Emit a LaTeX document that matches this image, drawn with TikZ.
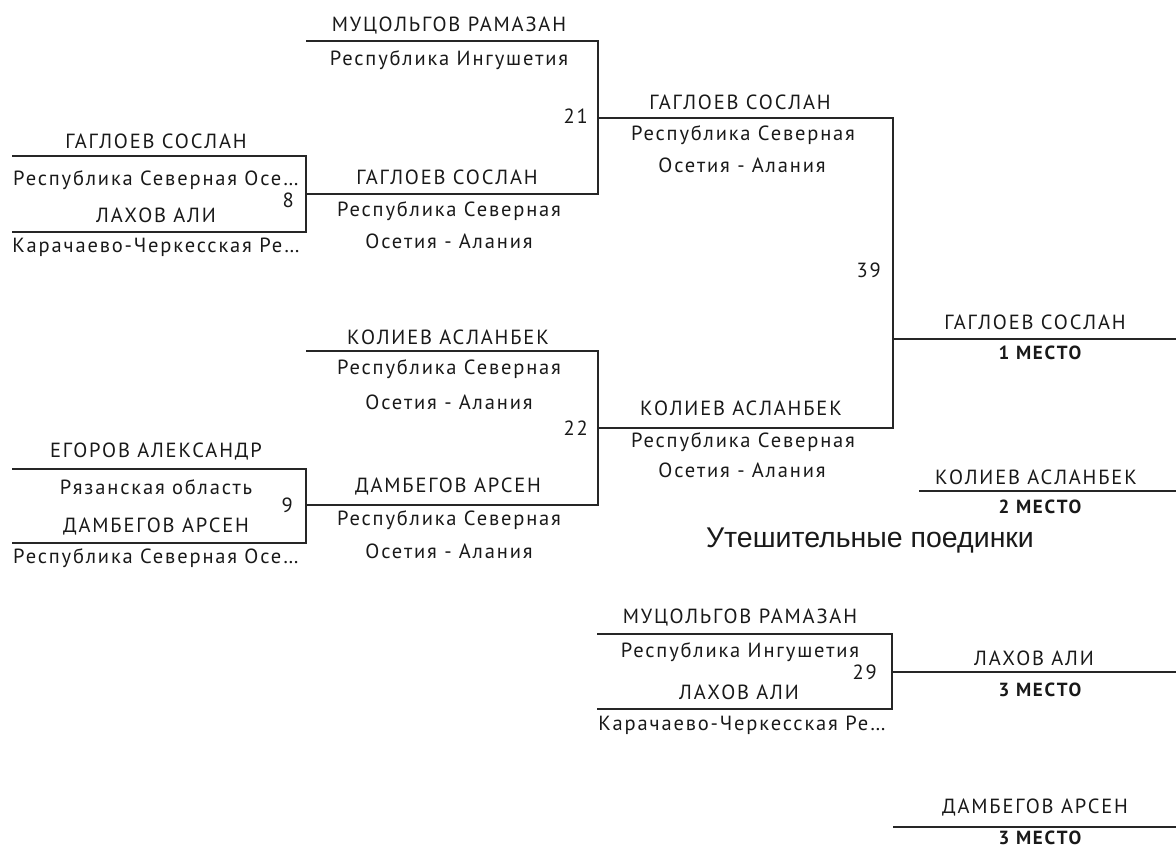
\documentclass[tikz,border=0pt]{standalone}
\usepackage{fontspec}
\setmainfont{PT Sans}
\newfontfamily\bracketfont[LetterSpace=9]{PT Sans}
\newfontfamily\titlefont{Liberation Sans}
\begin{document}
\begin{tikzpicture}[x=1pt,y=-1pt,
  ln/.style={line width=1.7pt, draw=black!85},
  txt/.style={font=\bracketfont\fontsize{20.5}{24}\selectfont, inner sep=0pt, anchor=center, text=black!90},
  num/.style={font=\bracketfont\fontsize{20.5}{24}\selectfont, inner sep=0pt, anchor=east, text=black!90},
  place/.style={font=\bracketfont\fontsize{19}{24}\selectfont\bfseries, inner sep=0pt, anchor=center, text=black!90},
  title/.style={font=\titlefont\fontsize{28.5}{34}\selectfont, inner sep=0pt, anchor=base, text=black!90}]
\useasboundingbox (0,0) rectangle (1176,848);
% bracket corner coordinates
\coordinate (m8a) at (12,156); \coordinate (m8b) at (306,156); \coordinate (m8c) at (306,232); \coordinate (m8d) at (12,232);
\coordinate (m21a) at (306,41); \coordinate (m21b) at (598,41); \coordinate (m21c) at (598,194); \coordinate (m21d) at (306,194);
\coordinate (m9a) at (12,469); \coordinate (m9b) at (306,469); \coordinate (m9c) at (306,543); \coordinate (m9d) at (12,543);
\coordinate (m22a) at (306,351); \coordinate (m22b) at (598,351); \coordinate (m22c) at (598,505); \coordinate (m22d) at (306,505);
\coordinate (m39a) at (598,118); \coordinate (m39b) at (893,118); \coordinate (m39c) at (893,428); \coordinate (m39d) at (598,428);
\coordinate (m39o) at (893,339); \coordinate (p1e) at (1176,339);
\coordinate (p2s) at (919,491); \coordinate (p2e) at (1176,491);
\coordinate (m29a) at (597,634); \coordinate (m29b) at (892,634); \coordinate (m29c) at (892,709); \coordinate (m29d) at (597,709);
\coordinate (m29o) at (892,672); \coordinate (p3ae) at (1176,672);
\coordinate (p3bs) at (893,827); \coordinate (p3be) at (1176,827);
% brackets
\draw[ln] (m8a) -- (m8b) -- (m8c) -- (m8d);
\draw[ln] (m21a) -- (m21b) -- (m21c) -- (m21d);
\draw[ln] (m9a) -- (m9b) -- (m9c) -- (m9d);
\draw[ln] (m22a) -- (m22b) -- (m22c) -- (m22d);
\draw[ln] (m39a) -- (m39b) -- (m39c) -- (m39d);
\draw[ln] (m39o) -- (p1e);
\draw[ln] (p2s) -- (p2e);
\draw[ln] (m29a) -- (m29b) -- (m29c) -- (m29d);
\draw[ln] (m29o) -- (p3ae);
\draw[ln] (p3bs) -- (p3be);
% column 1
\node[txt] (t1) at (156,141) {ГАГЛОЕВ СОСЛАН};
\node[txt] (t2) at (156,180) {Республика Северная Осе…};
\node[txt] (t3) at (156,215) {ЛАХОВ АЛИ};
\node[txt] (t4) at (156,247) {Карачаево-Черкесская Ре…};
\node[num] (n8) at (294,200) {8};
\node[txt] (t5) at (156,452) {ЕГОРОВ АЛЕКСАНДР};
\node[txt] (t6) at (156,487) {Рязанская область};
\node[txt] (t7) at (156,527) {ДАМБЕГОВ АРСЕН};
\node[txt] (t8) at (156,558) {Республика Северная Осе…};
\node[num] (n9) at (293,505) {9};
% column 2
\node[txt] (u1) at (449,26) {МУЦОЛЬГОВ РАМАЗАН};
\node[txt] (u2) at (449,60) {Республика Ингушетия};
\node[txt] (u3) at (447,177) {ГАГЛОЕВ СОСЛАН};
\node[txt] (u4) at (449,211) {Республика Северная};
\node[txt] (u5) at (449,241) {Осетия - Алания};
\node[num] (n21) at (588,116) {21};
\node[txt] (u6) at (448,337) {КОЛИЕВ АСЛАНБЕК};
\node[txt] (u7) at (449,369) {Республика Северная};
\node[txt] (u8) at (449,402) {Осетия - Алания};
\node[txt] (u9) at (448,487) {ДАМБЕГОВ АРСЕН};
\node[txt] (u10) at (449,520) {Республика Северная};
\node[txt] (u11) at (449,551) {Осетия - Алания};
\node[num] (n22) at (588,428) {22};
% column 3
\node[txt] (v1) at (740,102) {ГАГЛОЕВ СОСЛАН};
\node[txt] (v2) at (743,135) {Республика Северная};
\node[txt] (v3) at (742,165) {Осетия - Алания};
\node[txt] (v4) at (741,408) {КОЛИЕВ АСЛАНБЕК};
\node[txt] (v5) at (743,442) {Республика Северная};
\node[txt] (v6) at (742,470) {Осетия - Алания};
\node[num] (n39) at (881,270) {39};
\node[txt] (v7) at (740,618) {МУЦОЛЬГОВ РАМАЗАН};
\node[txt] (v8) at (740,652) {Республика Ингушетия};
\node[txt] (v9) at (739,692) {ЛАХОВ АЛИ};
\node[txt] (v10) at (742,725) {Карачаево-Черкесская Ре…};
\node[num] (n29) at (877,672) {29};
% results
\node[txt] (w1) at (1035,322) {ГАГЛОЕВ СОСЛАН};
\node[place] (w2) at (1040,353) {1 МЕСТО};
\node[txt] (w3) at (1036,477) {КОЛИЕВ АСЛАНБЕК};
\node[place] (w4) at (1040,507) {2 МЕСТО};
\node[title] (ttl) at (870,547) {Утешительные поединки};
\node[txt] (w5) at (1034,658) {ЛАХОВ АЛИ};
\node[place] (w6) at (1040,690) {3 МЕСТО};
\node[txt] (w7) at (1035,808) {ДАМБЕГОВ АРСЕН};
\node[place] (w8) at (1040,838) {3 МЕСТО};
\end{tikzpicture}
\end{document}
